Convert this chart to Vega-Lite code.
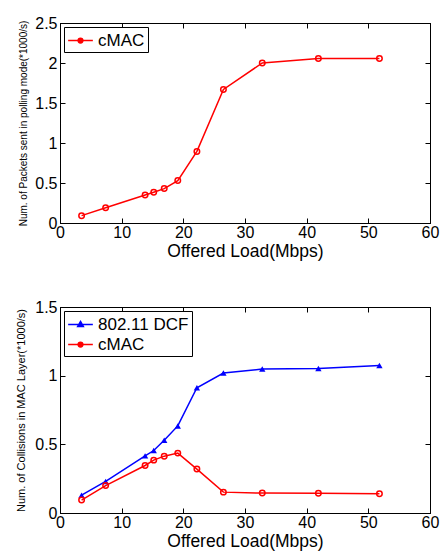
{
  "$schema": "https://vega.github.io/schema/vega-lite/v6.json",
  "background": "white",
  "padding": {"left": 15, "top": 14, "right": 2, "bottom": 2},
  "spacing": 38,
  "resolve": {"scale": {"color": "independent"}, "legend": {"color": "independent"}},
  "config": {
    "font": "Liberation Sans",
    "view": {"stroke": "black", "strokeWidth": 1},
    "axis": {
      "grid": false,
      "domainColor": "black",
      "domainWidth": 1,
      "tickColor": "black",
      "tickSize": -5,
      "labelColor": "black",
      "labelFont": "Liberation Sans",
      "labelFontSize": 16,
      "labelPadding": 8,
      "labelFlush": false,
      "titleColor": "black",
      "titleFont": "Liberation Sans",
      "titleFontWeight": "normal"
    },
    "legend": {
      "orient": "top-left",
      "offset": 4,
      "strokeColor": "black",
      "fillColor": "white",
      "padding": 3,
      "title": null,
      "labelFont": "Liberation Sans",
      "labelFontSize": 17,
      "labelColor": "black",
      "labelOffset": 7,
      "symbolOffset": 3,
      "symbolSize": 361,
      "symbolStrokeWidth": 1.5,
      "rowPadding": 1,
      "cornerRadius": 0
    }
  },
  "datasets": {
    "polling": [
      {"load": 3.5, "value": 0.092, "series": "cMAC"},
      {"load": 7.4, "value": 0.19, "series": "cMAC"},
      {"load": 13.8, "value": 0.35, "series": "cMAC"},
      {"load": 15.2, "value": 0.385, "series": "cMAC"},
      {"load": 16.9, "value": 0.43, "series": "cMAC"},
      {"load": 19.1, "value": 0.53, "series": "cMAC"},
      {"load": 22.2, "value": 0.895, "series": "cMAC"},
      {"load": 26.5, "value": 1.67, "series": "cMAC"},
      {"load": 32.8, "value": 2.0, "series": "cMAC"},
      {"load": 41.9, "value": 2.055, "series": "cMAC"},
      {"load": 51.8, "value": 2.055, "series": "cMAC"}
    ],
    "collisions": [
      {"load": 3.5, "value": 0.13, "series": "802.11 DCF"},
      {"load": 7.4, "value": 0.23, "series": "802.11 DCF"},
      {"load": 13.8, "value": 0.416, "series": "802.11 DCF"},
      {"load": 15.2, "value": 0.455, "series": "802.11 DCF"},
      {"load": 16.9, "value": 0.53, "series": "802.11 DCF"},
      {"load": 19.1, "value": 0.634, "series": "802.11 DCF"},
      {"load": 22.2, "value": 0.912, "series": "802.11 DCF"},
      {"load": 26.5, "value": 1.019, "series": "802.11 DCF"},
      {"load": 32.8, "value": 1.048, "series": "802.11 DCF"},
      {"load": 41.9, "value": 1.052, "series": "802.11 DCF"},
      {"load": 51.8, "value": 1.074, "series": "802.11 DCF"},
      {"load": 3.5, "value": 0.094, "series": "cMAC"},
      {"load": 7.4, "value": 0.2, "series": "cMAC"},
      {"load": 13.8, "value": 0.346, "series": "cMAC"},
      {"load": 15.2, "value": 0.385, "series": "cMAC"},
      {"load": 16.9, "value": 0.414, "series": "cMAC"},
      {"load": 19.1, "value": 0.436, "series": "cMAC"},
      {"load": 22.2, "value": 0.32, "series": "cMAC"},
      {"load": 26.5, "value": 0.152, "series": "cMAC"},
      {"load": 32.8, "value": 0.145, "series": "cMAC"},
      {"load": 41.9, "value": 0.143, "series": "cMAC"},
      {"load": 51.8, "value": 0.14, "series": "cMAC"}
    ]
  },
  "vconcat": [
    {
      "width": 370,
      "height": 200,
      "data": {"name": "polling"},
      "layer": [
        {
          "mark": {"type": "line", "strokeWidth": 1.5},
          "encoding": {
            "x": {"field": "load", "type": "quantitative", "scale": {"domain": [0, 60], "nice": false},
                  "axis": {"values": [0, 10, 20, 30, 40, 50, 60], "title": "Offered Load(Mbps)", "titleFontSize": 17.5, "titlePadding": 2, "labelPadding": 6}},
            "y": {"field": "value", "type": "quantitative", "scale": {"domain": [0, 2.5], "nice": false},
                  "axis": {"values": [0, 0.5, 1, 1.5, 2, 2.5], "format": "~g", "title": "Num. of Packets sent in polling mode(*1000/s)", "titleFontSize": 10, "titlePadding": 6}},
            "color": {"field": "series", "type": "nominal",
                      "scale": {"domain": ["cMAC"], "range": ["#ff0000"]},
                      "legend": {"encode": {"symbols": {"update": {
                        "shape": {"value": "M-1.3,0H1.3M-0.25,0A0.25,0.25 0 1,0 0.25,0A0.25,0.25 0 1,0 -0.25,0"},
                        "fill": {"value": "#ff0000"},
                        "stroke": {"value": "#ff0000"},
                        "strokeWidth": {"value": 1.5}}}}}}
          }
        },
        {
          "mark": {"type": "point", "shape": "circle", "filled": false, "color": "#ff0000", "size": 30, "strokeWidth": 1.5, "opacity": 1},
          "encoding": {
            "x": {"field": "load", "type": "quantitative", "axis": {"orient": "top", "values": [0, 10, 20, 30, 40, 50, 60], "labels": false, "title": null}},
            "y": {"field": "value", "type": "quantitative", "axis": {"orient": "right", "values": [0, 0.5, 1, 1.5, 2, 2.5], "labels": false, "title": null}}
          }
        }
      ],
      "resolve": {"axis": {"x": "independent", "y": "independent"}}
    },
    {
      "width": 370,
      "height": 206,
      "data": {"name": "collisions"},
      "layer": [
        {
          "mark": {"type": "line", "strokeWidth": 1.5},
          "encoding": {
            "x": {"field": "load", "type": "quantitative", "scale": {"domain": [0, 60], "nice": false},
                  "axis": {"values": [0, 10, 20, 30, 40, 50, 60], "title": "Offered Load(Mbps)", "titleFontSize": 17.5, "titlePadding": 2, "labelPadding": 6}},
            "y": {"field": "value", "type": "quantitative", "scale": {"domain": [0, 1.5], "nice": false},
                  "axis": {"values": [0, 0.5, 1, 1.5], "format": "~g", "title": "Num. of Collisions in MAC Layer(*1000/s)", "titleFontSize": 11, "titlePadding": 8}},
            "color": {"field": "series", "type": "nominal",
                      "scale": {"domain": ["802.11 DCF", "cMAC"], "range": ["#0000ff", "#ff0000"]},
                      "legend": {"encode": {"symbols": {"update": {
                        "shape": {"signal": "datum.value === 'cMAC' ? 'M-1.3,0H1.3M-0.25,0A0.25,0.25 0 1,0 0.25,0A0.25,0.25 0 1,0 -0.25,0' : 'M-1.3,0H1.3M0,-0.32L0.3,0.22L-0.3,0.22Z'"},
                        "fill": {"signal": "datum.value === 'cMAC' ? '#ff0000' : '#0000ff'"},
                        "stroke": {"signal": "datum.value === 'cMAC' ? '#ff0000' : '#0000ff'"},
                        "strokeWidth": {"value": 1.5}}}}}}
          }
        },
        {
          "transform": [{"filter": "datum.series === '802.11 DCF'"}],
          "mark": {"type": "point", "shape": "triangle-up", "filled": true, "color": "#0000ff", "size": 40, "opacity": 1},
          "encoding": {
            "x": {"field": "load", "type": "quantitative", "axis": {"orient": "top", "values": [0, 10, 20, 30, 40, 50, 60], "labels": false, "title": null}},
            "y": {"field": "value", "type": "quantitative", "axis": {"orient": "right", "values": [0, 0.5, 1, 1.5], "labels": false, "title": null}}
          }
        },
        {
          "transform": [{"filter": "datum.series === 'cMAC'"}],
          "mark": {"type": "point", "shape": "circle", "filled": false, "color": "#ff0000", "size": 30, "strokeWidth": 1.5, "opacity": 1},
          "encoding": {
            "x": {"field": "load", "type": "quantitative", "axis": null},
            "y": {"field": "value", "type": "quantitative", "axis": null}
          }
        }
      ],
      "resolve": {"axis": {"x": "independent", "y": "independent"}}
    }
  ]
}
